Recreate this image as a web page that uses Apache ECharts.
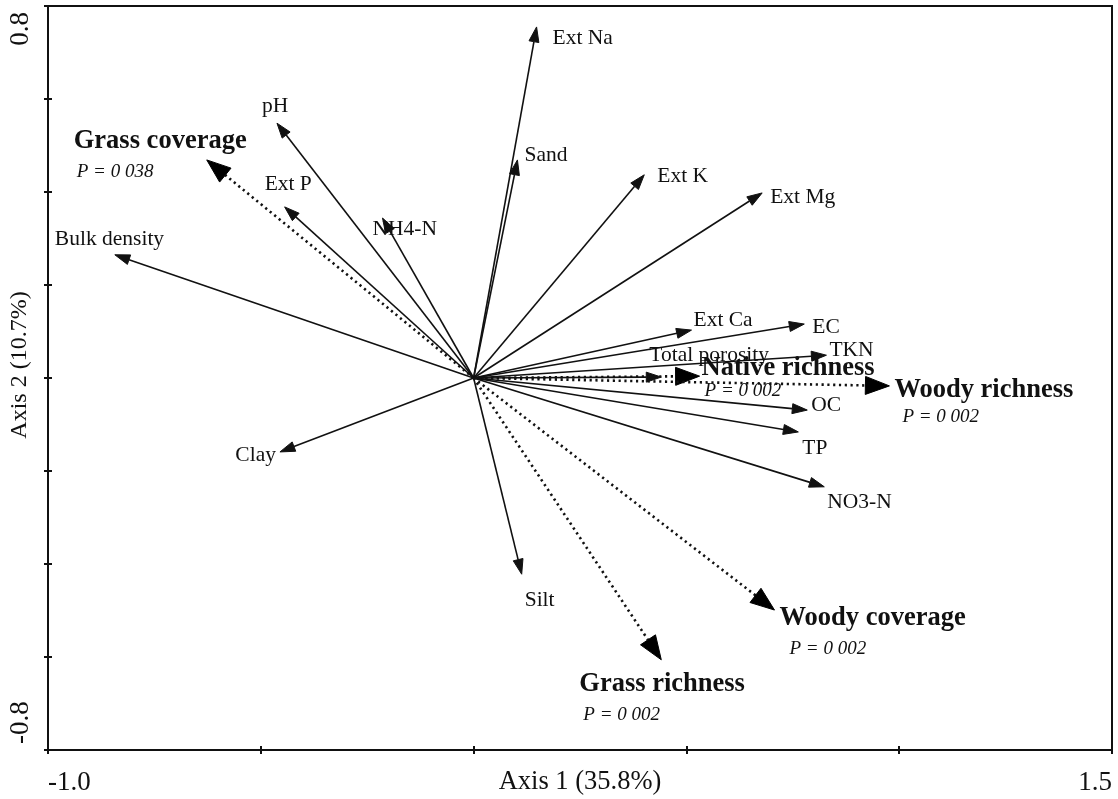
<!DOCTYPE html>
<html>
<head>
<meta charset="utf-8">
<script src="https://cdn.jsdelivr.net/npm/echarts@6/dist/echarts.min.js"></script>
<style>
html,body{margin:0;padding:0;background:#fff;}
#chart{width:1118px;height:799px;}
</style>
</head>
<body>
<div id="chart"></div>
<script>
// ---------- data ----------
const envNames = ['Ext Na','Sand','Ext K','Ext Mg','pH','Ext P','NH4-N','Bulk density','Clay','Silt','Ext Ca','EC','TKN','Total porosity','OC','TP','NO3-N'];
const envAxis1 = [0.148, 0.103, 0.401, 0.678, -0.462, -0.444, -0.214, -0.843, -0.455, 0.113, 0.512, 0.777, 0.829, 0.441, 0.784, 0.763, 0.824];
const envAxis2 = [0.755, 0.469, 0.437, 0.398, 0.548, 0.368, 0.344, 0.265, -0.159, -0.422, 0.103, 0.116, 0.049, 0.002, -0.069, -0.116, -0.234];

const respNames = ['Grass coverage','Native richness','Woody richness','Woody coverage','Grass richness'];
const respAxis1 = [-0.627, 0.531, 0.977, 0.707, 0.441];
const respAxis2 = [0.469, 0.004, -0.017, -0.499, -0.606];
const respP = ['P = 0 038','P = 0 002','P = 0 002','P = 0 002','P = 0 002'];

const xTickLabels = {'-1': '-1.0', '1.5': '1.5'};
const yTickLabels = {'-0.8': '-0.8', '0.8': '0.8'};
const xTitle = 'Axis 1 (35.8%)';
const yTitle = 'Axis 2 (10.7%)';

// ---------- label layout (pixel offsets from arrow tip; style only) ----------
const envLabelLayout = {
  'Ext Na': [16, 11, 'left'], 'Sand': [7, -5, 'left'], 'Ext K': [13, 2, 'left'], 'Ext Mg': [8, 4, 'left'],
  'pH': [-15, -17, 'left'], 'Ext P': [-20, -23, 'left'], 'NH4-N': [-10, 11, 'left'], 'Bulk density': [-60, -15, 'left'],
  'Clay': [-4, 3, 'right'], 'Silt': [3, 26, 'left'], 'Ext Ca': [2, -10, 'left'], 'EC': [8, 3, 'left'],
  'TKN': [3, -5, 'left'], 'Total porosity': [-12, -22, 'left'], 'OC': [4, -5, 'left'], 'TP': [4, 16, 'left'], 'NO3-N': [3, 16, 'left']
};
const respLabelLayout = {
  'Grass coverage': [-133, -19, -130, 12],
  'Native richness': [2, -8, 5, 15],
  'Woody richness': [5, 4, 13, 31],
  'Woody coverage': [5, 8, 15, 39],
  'Grass richness': [-82, 24, -78, 55]
};

const FONT = "'Liberation Serif','Times New Roman',serif";

function arrowShape(o, t, headLen, headHalf) {
  const dx = t[0] - o[0], dy = t[1] - o[1];
  const L = Math.sqrt(dx * dx + dy * dy) || 1;
  const ux = dx / L, uy = dy / L;
  const bx = t[0] - ux * headLen, by = t[1] - uy * headLen;
  const px = -uy, py = ux;
  return {
    base: [bx, by],
    head: [[t[0], t[1]], [bx + px * headHalf, by + py * headHalf], [bx - px * headHalf, by - py * headHalf]]
  };
}

const envData = envNames.map((n, i) => [envAxis1[i], envAxis2[i], n]);
const respData = respNames.map((n, i) => [respAxis1[i], respAxis2[i], n, respP[i]]);

const chart = echarts.init(document.getElementById('chart'), null, {renderer: 'canvas'});

const axisText = {color: '#111', fontFamily: FONT, fontSize: 27};

chart.setOption({
  animation: false,
  backgroundColor: '#fff',
  grid: {left: 48, right: 6, top: 6, bottom: 49, containLabel: false, outerBoundsMode: 'none',
    show: true, borderColor: '#111', borderWidth: 2, backgroundColor: 'transparent'},
  xAxis: [{
    type: 'value', min: -1.0, max: 1.5, interval: 0.5, position: 'bottom',
    splitLine: {show: false},
    axisLine: {onZero: false, lineStyle: {color: '#111', width: 2}},
    axisTick: {inside: false, length: 4, lineStyle: {color: '#111', width: 2}},
    axisLabel: Object.assign({margin: 19, alignMinLabel: 'left', alignMaxLabel: 'right',
      formatter: v => xTickLabels[String(Math.round(v * 100) / 100)] || ''}, axisText),
    name: xTitle, nameLocation: 'middle', nameGap: 19, nameMoveOverlap: false,
    nameTextStyle: Object.assign({verticalAlign: 'top'}, axisText, {fontSize: 26.5})
  }, {
    type: 'value', min: -1.0, max: 1.5, interval: 0.5, position: 'bottom',
    splitLine: {show: false}, axisLine: {show: false, onZero: false},
    axisTick: {inside: true, length: 4, lineStyle: {color: '#111', width: 2}},
    axisLabel: {show: false}
  }],
  yAxis: [{
    type: 'value', min: -0.8, max: 0.8, interval: 0.2, position: 'left',
    splitLine: {show: false},
    axisLine: {onZero: false, lineStyle: {color: '#111', width: 2}},
    axisTick: {inside: false, length: 4, lineStyle: {color: '#111', width: 2}},
    axisLabel: Object.assign({margin: 14, rotate: 90, alignMinLabel: 'left', alignMaxLabel: 'right',
      padding: [0, 6, 0, 6],
      formatter: v => yTickLabels[String(Math.round(v * 100) / 100)] || ''}, axisText),
    name: yTitle, nameLocation: 'middle', nameGap: 16, nameMoveOverlap: false,
    nameTextStyle: Object.assign({}, axisText, {fontSize: 24, padding: [0, 0, 0, 26]})
  }, {
    type: 'value', min: -0.8, max: 0.8, interval: 0.2, position: 'left',
    splitLine: {show: false}, axisLine: {show: false, onZero: false},
    axisTick: {inside: true, length: 4, lineStyle: {color: '#111', width: 2}},
    axisLabel: {show: false}
  }],
  series: [{
    type: 'custom', name: 'Environmental variables', xAxisIndex: 0, yAxisIndex: 0,
    data: envData, clip: false,
    renderItem: function (params, api) {
      const o = api.coord([0, 0]);
      const t = api.coord([api.value(0), api.value(1)]);
      const name = envNames[params.dataIndex];
      const a = arrowShape(o, t, 15, 5);
      const lay = envLabelLayout[name] || [5, 0, 'left'];
      return {
        type: 'group',
        children: [
          {type: 'line', shape: {x1: o[0], y1: o[1], x2: a.base[0], y2: a.base[1]}, style: {stroke: '#111', lineWidth: 1.6}},
          {type: 'polygon', shape: {points: a.head}, style: {fill: '#111', stroke: '#111', lineWidth: 1}},
          {type: 'text', x: t[0] + lay[0], y: t[1] + lay[1],
            style: {text: name, fill: '#111', font: '21.5px ' + FONT, textAlign: lay[2], textVerticalAlign: 'middle'}}
        ]
      };
    }
  }, {
    type: 'custom', name: 'Response variables', xAxisIndex: 0, yAxisIndex: 0,
    data: respData, clip: false,
    renderItem: function (params, api) {
      const o = api.coord([0, 0]);
      const t = api.coord([api.value(0), api.value(1)]);
      const name = respNames[params.dataIndex];
      const a = arrowShape(o, t, 24, 9);
      const lay = respLabelLayout[name];
      return {
        type: 'group',
        children: [
          {type: 'line', shape: {x1: o[0], y1: o[1], x2: a.base[0], y2: a.base[1]},
            style: {stroke: '#111', lineWidth: 2.6, lineDash: [2.2, 3.6]}},
          {type: 'polygon', shape: {points: a.head}, style: {fill: '#000', stroke: '#000', lineWidth: 1}},
          {type: 'text', x: t[0] + lay[0], y: t[1] + lay[1],
            style: {text: name, fill: '#111', font: 'bold 26.5px ' + FONT, textAlign: 'left', textVerticalAlign: 'middle'}},
          {type: 'text', x: t[0] + lay[2], y: t[1] + lay[3],
            style: {text: respP[params.dataIndex], fill: '#111', font: 'italic 19px ' + FONT, textAlign: 'left', textVerticalAlign: 'middle'}}
        ]
      };
    }
  }]
});
</script>
</body>
</html>
